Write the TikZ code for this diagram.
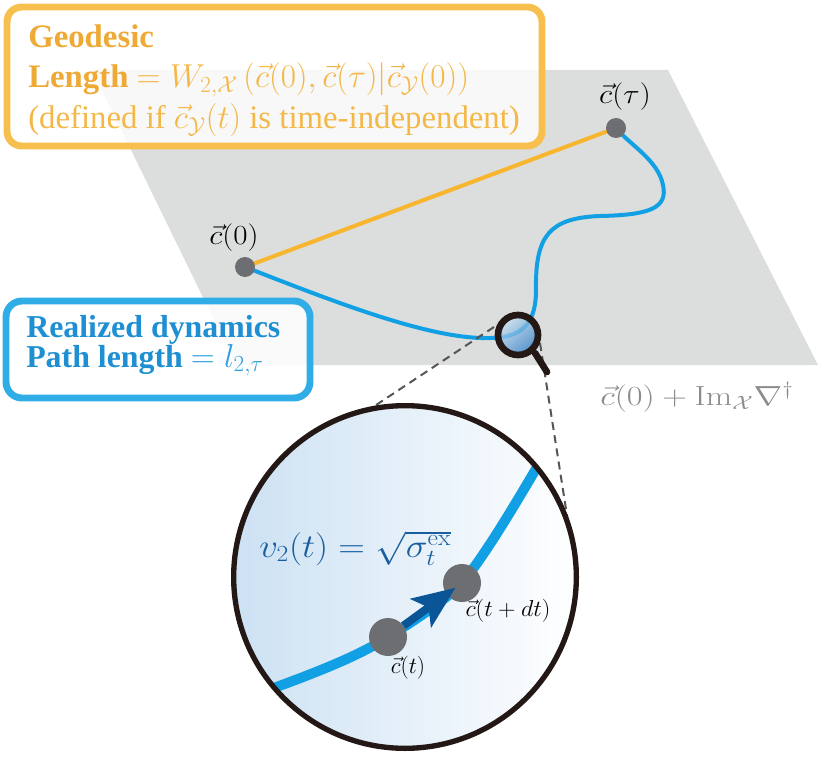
\documentclass[tikz,border=0pt]{standalone}
\usepackage[no-math]{fontspec}
\setmainfont{Liberation Serif}
\usepackage{amsmath}
\usepackage{graphicx}
\usetikzlibrary{arrows.meta}
\definecolor{planegray}{RGB}{220,221,221}
\definecolor{geoorange}{RGB}{247,182,45}
\definecolor{oborder}{RGB}{247,192,78}
\definecolor{otextc}{RGB}{238,170,52}
\definecolor{omath}{RGB}{243,184,72}
\definecolor{bborder}{RGB}{48,172,230}
\definecolor{btextc}{RGB}{30,143,210}
\definecolor{bmath}{RGB}{45,160,225}
\definecolor{pathblue}{RGB}{18,160,228}
\definecolor{dotgray}{RGB}{108,110,113}
\definecolor{ringblack}{RGB}{35,24,21}
\definecolor{labgray}{RGB}{140,140,140}
\definecolor{dashgray}{RGB}{85,85,85}
\definecolor{circleft}{RGB}{204,225,243}
\definecolor{arrowblue}{RGB}{10,85,150}
\definecolor{vlabblue}{RGB}{25,95,160}
\definecolor{lenslight}{RGB}{205,228,246}
\definecolor{lensdark}{RGB}{40,122,196}
\begin{document}
\begin{tikzpicture}[x=0.75pt,y=-0.75pt,
  dot/.style={circle,fill=dotgray,inner sep=0pt,minimum size=15pt},
  bigdot/.style={circle,fill=dotgray,inner sep=0pt,minimum size=28.5pt},
  geoline/.style={draw=geoorange,line width=3pt},
  realpath/.style={draw=pathblue,line width=3pt},
  obox/.style={draw=oborder,line width=5.2pt,rounded corners=11pt,fill=white,fill opacity=0.82},
  bbox/.style={draw=bborder,line width=5.2pt,rounded corners=12pt,fill=white,fill opacity=0.88},
  otext/.style={anchor=base west,inner sep=0pt,text=otextc,font=\fontsize{24.6}{28}\selectfont},
  btext/.style={anchor=base west,inner sep=0pt,text=btextc,font=\fontsize{23.9}{28}\selectfont},
  planelab/.style={inner sep=0pt,text=black,font=\fontsize{21.5}{24}\selectfont},
  zoomlab/.style={inner sep=0pt,text=black,font=\fontsize{18}{20}\selectfont},
  dashline/.style={draw=dashgray,line width=1.5pt,dash pattern=on 6pt off 4pt}
]
\useasboundingbox (0,0) rectangle (830,762);
% plane
\fill[planegray] (92,70) -- (668,70) -- (818,365) -- (236,365) -- cycle;
% points
\coordinate (p0) at (245,267);
\coordinate (ptau) at (616,128);
\draw[geoline] (p0) -- (ptau);
\draw[realpath] (p0) .. controls (330,300) and (430,340) .. (490,338)
  .. controls (525,338) and (536,320) .. (536,290)
  .. controls (535,235) and (550,218) .. (600,216)
  .. controls (650,215) and (668,208) .. (663,185)
  .. controls (658,160) and (630,145) .. (ptau);
\node[dot] (c0) at (p0) {};
\node[dot] (ctau) at (ptau) {};
\node[planelab] (l0) at (234,238) {\scalebox{1.12}[1]{$\vec{c}(0)$}};
\node[planelab] (ltau) at (625,97) {\scalebox{1.12}[1]{$\vec{c}(\tau)$}};
\node[planelab,text=labgray,font=\fontsize{22}{24}\selectfont] (lplane) at (697,397) {\scalebox{1.24}[1]{$\vec{c}(0)+\mathrm{Im}_{\mathcal{X}}\nabla^{\dagger}$}};
% orange box
\path[obox] (7,7) rectangle (542,146);
\node[otext] (g1) at (28,48) {\bfseries Geodesic};
\node[otext] (g2) at (28,88) {\textbf{Length} \textcolor{omath}{$= W_{2,\mathcal{X}}\,(\vec{c}(0),\vec{c}(\tau)|\vec{c}_{\mathcal{Y}}(0))$}};
\node[otext,text=omath] (g3) at (28,129) {(defined if $\vec{c}_{\mathcal{Y}}(t)$ is time-independent)};
% blue box
\path[bbox] (6,301) rectangle (310,398);
\node[btext] (b1) at (26,337) {\bfseries Realized dynamics};
\node[btext] (b2) at (26,367) {\textbf{Path length} \textcolor{bmath}{$= l_{2,\tau}$}};
% dashed lines
\coordinate (dA1) at (494,327);
\coordinate (dA2) at (367,411);
\coordinate (dB1) at (540,343);
\coordinate (dB2) at (568,522);
\draw[dashline] (dA1) -- (dA2);
\draw[dashline] (dB1) -- (dB2);
% magnifier
\coordinate (mag) at (518,335);
\shade[top color=lenslight,bottom color=lensdark,shading angle=40,opacity=0.75] (mag) circle (15pt);
\draw[draw=ringblack,line width=5pt] (mag) circle (15pt);
\coordinate (h1) at (535,353);
\coordinate (h2) at (547,372);
\draw[draw=ringblack,line width=5pt,line cap=round] (h1) -- (h2);
% big circle
\coordinate (bc) at (405,577);
\shade[left color=circleft,right color=white] (bc) circle (128.5pt);
\begin{scope}
\clip (bc) circle (128.5pt);
\draw[draw=pathblue,line width=7.5pt] (240,700) .. controls (320,672) and (360,655) .. (388,637)
  .. controls (420,617) and (445,600) .. (462,583)
  .. controls (485,555) and (512,510) .. (550,445);
\end{scope}
\node[bigdot] (ct) at (388,637) {};
\node[bigdot] (ctdt) at (462,583) {};
\draw[draw=arrowblue,line width=6pt,-{Stealth[length=32pt,width=26pt,inset=7pt]},shorten >=6pt] (ct) -- (ctdt.center);
\node[zoomlab] (lct) at (408,668) {$\vec{c}(t)$};
\node[zoomlab] (lctdt) at (508,611) {\scalebox{1.05}[1]{$\vec{c}(t+dt)$}};
\node[inner sep=0pt,text=vlabblue,font=\fontsize{25}{30}\selectfont,anchor=base west] (vlab) at (259,557) {\scalebox{1.11}[1]{$v_2(t)=\sqrt{\sigma_t^{\mathrm{ex}}}$}};
\draw[draw=ringblack,line width=4pt] (bc) circle (128.5pt);
\end{tikzpicture}
\end{document}
